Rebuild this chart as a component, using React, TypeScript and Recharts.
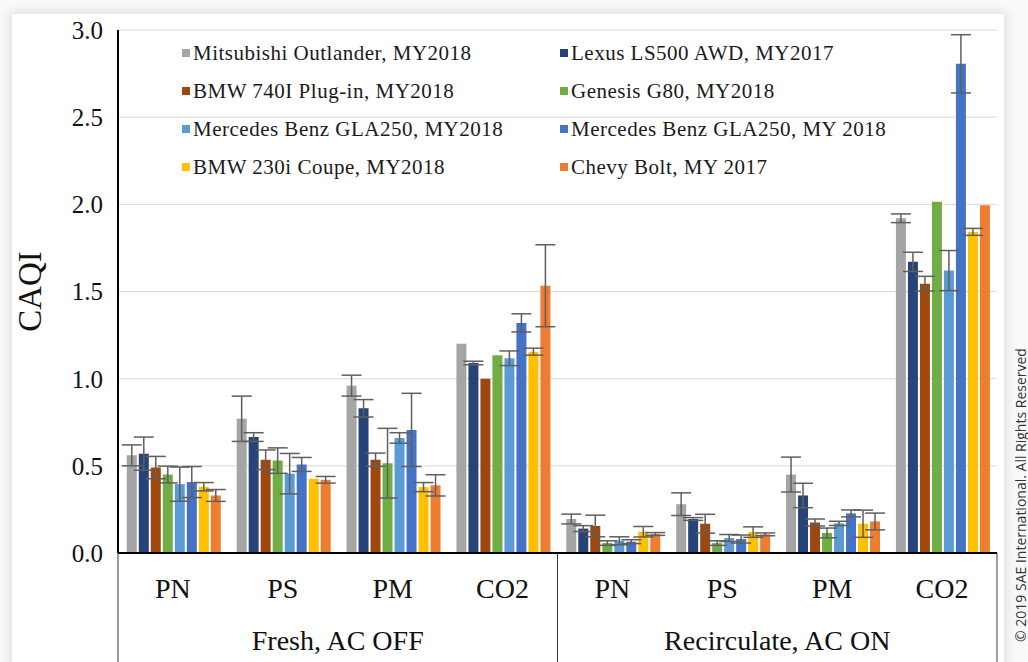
import React from "react";
import {
  BarChart,
  Bar,
  XAxis,
  YAxis,
  CartesianGrid,
  ErrorBar,
} from "recharts";

// category order: Fresh PN, PS, PM, CO2, then Recirculate PN, PS, PM, CO2
const metrics = ["PN", "PS", "PM", "CO2", "PN", "PS", "PM", "CO2"];
const groups = [
  "Fresh, AC OFF",
  "Fresh, AC OFF",
  "Fresh, AC OFF",
  "Fresh, AC OFF",
  "Recirculate, AC ON",
  "Recirculate, AC ON",
  "Recirculate, AC ON",
  "Recirculate, AC ON",
];

const seriesNames = [
  "Mitsubishi Outlander, MY2018",
  "Lexus LS500 AWD, MY2017",
  "BMW 740I Plug-in, MY2018",
  "Genesis G80, MY2018",
  "Mercedes Benz GLA250, MY2018",
  "Mercedes Benz GLA250, MY 2018",
  "BMW 230i Coupe, MY2018",
  "Chevy Bolt, MY 2017",
];

const seriesColors = [
  "#A5A5A5",
  "#264478",
  "#9E480E",
  "#70AD47",
  "#5B9BD5",
  "#4472C4",
  "#FFC000",
  "#ED7D31",
];

const mitsubishi = [0.56, 0.77, 0.96, 1.2, 0.195, 0.28, 0.45, 1.92];
const mitsubishiErr = [0.06, 0.13, 0.06, 0, 0.028, 0.065, 0.1, 0.025];
const lexus = [0.57, 0.665, 0.83, 1.09, 0.14, 0.195, 0.33, 1.67];
const lexusErr = [0.095, 0.025, 0.05, 0.01, 0.017, 0.008, 0.07, 0.055];
const bmw740 = [0.49, 0.535, 0.535, 1.0, 0.155, 0.168, 0.175, 1.545];
const bmw740Err = [0.064, 0.056, 0.038, 0, 0.062, 0.054, 0.02, 0.042];
const genesis = [0.45, 0.53, 0.515, 1.135, 0.057, 0.057, 0.115, 2.015];
const genesisErr = [0.048, 0.073, 0.2, 0, 0.013, 0.013, 0.028, 0];
const gla250a = [0.395, 0.455, 0.66, 1.117, 0.07, 0.086, 0.17, 1.62];
const gla250aErr = [0.098, 0.116, 0.03, 0.042, 0.023, 0.02, 0.012, 0.115];
const gla250b = [0.407, 0.508, 0.706, 1.32, 0.065, 0.08, 0.227, 2.806];
const gla250bErr = [0.089, 0.04, 0.21, 0.052, 0.011, 0.023, 0.02, 0.167];
const bmw230 = [0.38, 0.426, 0.378, 1.155, 0.122, 0.12, 0.168, 1.842];
const bmw230Err = [0.024, 0, 0.026, 0.02, 0.03, 0.03, 0.078, 0.02];
const bolt = [0.33, 0.42, 0.388, 1.533, 0.109, 0.107, 0.181, 1.995];
const boltErr = [0.034, 0.019, 0.061, 0.235, 0.008, 0.008, 0.048, 0];

const seriesValues = [mitsubishi, lexus, bmw740, genesis, gla250a, gla250b, bmw230, bolt];
const seriesErrors = [
  mitsubishiErr,
  lexusErr,
  bmw740Err,
  genesisErr,
  gla250aErr,
  gla250bErr,
  bmw230Err,
  boltErr,
];

const yTicks = [0, 0.5, 1, 1.5, 2, 2.5, 3];

const data = metrics.map((m, i) => {
  const row: Record<string, number | string> = {
    key: `${groups[i]}|${m}`,
    metric: m,
    group: groups[i],
  };
  seriesValues.forEach((vals, s) => {
    row[`s${s}`] = vals[i];
    row[`e${s}`] = seriesErrors[s][i];
  });
  return row;
});

const W = 1028;
const H = 662;
const PLOT_LEFT = 118;
const PLOT_RIGHT = 997;
const serif = "'Liberation Serif', 'Times New Roman', serif";
const bandHalf = (PLOT_RIGHT - PLOT_LEFT) / metrics.length / 2;

function MetricTick(props: any) {
  const { x, y, payload, index } = props;
  const label = metrics[index] ?? String(payload.value).split("|")[1];
  const half = payload?.offset || bandHalf;
  const axisY = y - 8;
  const lines = [];
  if (index === 0) lines.push(x - half);
  if (index === 3 || index === 7) lines.push(x + half);
  return (
    <g>
      {lines.map((lx) => (
        <line key={lx} x1={lx} x2={lx} y1={axisY} y2={H} stroke="#3a3a3a" strokeWidth={1} />
      ))}
      <text x={x} y={y + 27} dy="0.355em" textAnchor="middle" fontFamily={serif} fontSize={28} fill="#111">
        {label}
      </text>
    </g>
  );
}

function GroupTick(props: any) {
  const { x, y, payload } = props;
  return (
    <text x={x} y={y + 19} dy="0.355em" textAnchor="middle" fontFamily={serif} fontSize={28} fill="#111">
      {payload.value}
    </text>
  );
}

function LegendBox() {
  return (
    <div
      style={{
        position: "absolute",
        left: 182,
        top: 34,
        display: "grid",
        gridTemplateColumns: "378px 380px",
        fontFamily: serif,
        fontSize: 21,
        letterSpacing: 0.5,
        color: "#1a1a1a",
      }}
    >
      {seriesNames.map((name, i) => (
        <div key={name} style={{ display: "flex", alignItems: "center", height: 38, whiteSpace: "nowrap" }}>
          <span
            style={{
              display: "inline-block",
              width: 8,
              height: 8,
              background: seriesColors[i],
              marginRight: 3,
            }}
          />
          {name}
        </div>
      ))}
    </div>
  );
}

function CaqiLabel(props: any) {
  const vb = props.viewBox || { x: 0, y: 30, width: 118, height: 523 };
  const cx = vb.x + 29;
  const cy = vb.y + vb.height / 2;
  return (
    <text
      x={cx}
      y={cy}
      transform={`rotate(-90 ${cx} ${cy})`}
      textAnchor="middle"
      dy="0.355em"
      fontFamily={serif}
      fontSize={33}
      fill="#111"
    >
      CAQI
    </text>
  );
}

export default function App() {
  return (
    <div style={{ position: "relative", width: W, height: H, background: "#fafafa", overflow: "hidden" }}>
      <style>{`body{margin:0}`}</style>
      <div
        style={{
          position: "absolute",
          left: 12,
          top: 14,
          width: 992,
          height: H,
          background: "#fff",
          boxShadow: "0 0 12px 2px rgba(0,0,0,0.13)",
        }}
      />
      <div style={{ position: "absolute", left: 0, top: 0 }}>
        <BarChart
          width={W}
          height={H}
          data={data}
          margin={{ top: 30, right: W - PLOT_RIGHT, left: 0, bottom: 0 }}
          barCategoryGap="8%"
          barGap={2}
        >
          <CartesianGrid vertical={false} stroke="#d9d9d9" strokeWidth={1} yAxisId="left" xAxisId="xa" />
          <XAxis
            xAxisId="xa"
            dataKey="key"
            height={60}
            tickLine={false}
            axisLine={{ stroke: "#000", strokeWidth: 2 }}
            tick={<MetricTick />}
            interval={0}
          />
          <XAxis
            xAxisId="xb"
            dataKey="group"
            allowDuplicatedCategory={false}
            height={49}
            tickLine={false}
            axisLine={false}
            tick={<GroupTick />}
            interval={0}
          />
          <XAxis
            xAxisId="xt"
            dataKey="key"
            orientation="top"
            height={0}
            tick={false}
            tickLine={false}
            axisLine={{ stroke: "#000", strokeWidth: 2 }}
          />
          <YAxis
            yAxisId="left"
            width={PLOT_LEFT}
            domain={[0, 3]}
            ticks={yTicks}
            tickFormatter={(v: number) => v.toFixed(1)}
            tickLine={false}
            tickMargin={9}
            axisLine={{ stroke: "#000", strokeWidth: 2 }}
            tick={{ fontFamily: serif, fontSize: 25, fill: "#111" }}
            label={CaqiLabel}
          />
          <YAxis
            yAxisId="r"
            orientation="right"
            width={0}
            domain={[0, 3]}
            tick={false}
            tickLine={false}
            axisLine={{ stroke: "#000", strokeWidth: 2 }}
          />
          {seriesNames.map((name, s) => (
            <Bar
              key={name}
              name={name}
              dataKey={`s${s}`}
              xAxisId="xa"
              yAxisId="left"
              fill={seriesColors[s]}
              isAnimationActive={false}
            >
              <ErrorBar
                dataKey={`e${s}`}
                width={10}
                stroke="#5f5f5f"
                strokeWidth={1.5}
                direction="y"
                isAnimationActive={false}
              />
            </Bar>
          ))}
        </BarChart>
      </div>
      <LegendBox />
      <div
        style={{
          position: "absolute",
          left: 1020,
          top: 495,
          transform: "translate(-50%, -50%) rotate(-90deg)",
          whiteSpace: "nowrap",
          fontFamily: "'Open Sans', 'DejaVu Sans', sans-serif",
          fontSize: 14,
          color: "#333",
        }}
      >
        © 2019 SAE International. All Rights Reserved
      </div>
    </div>
  );
}
